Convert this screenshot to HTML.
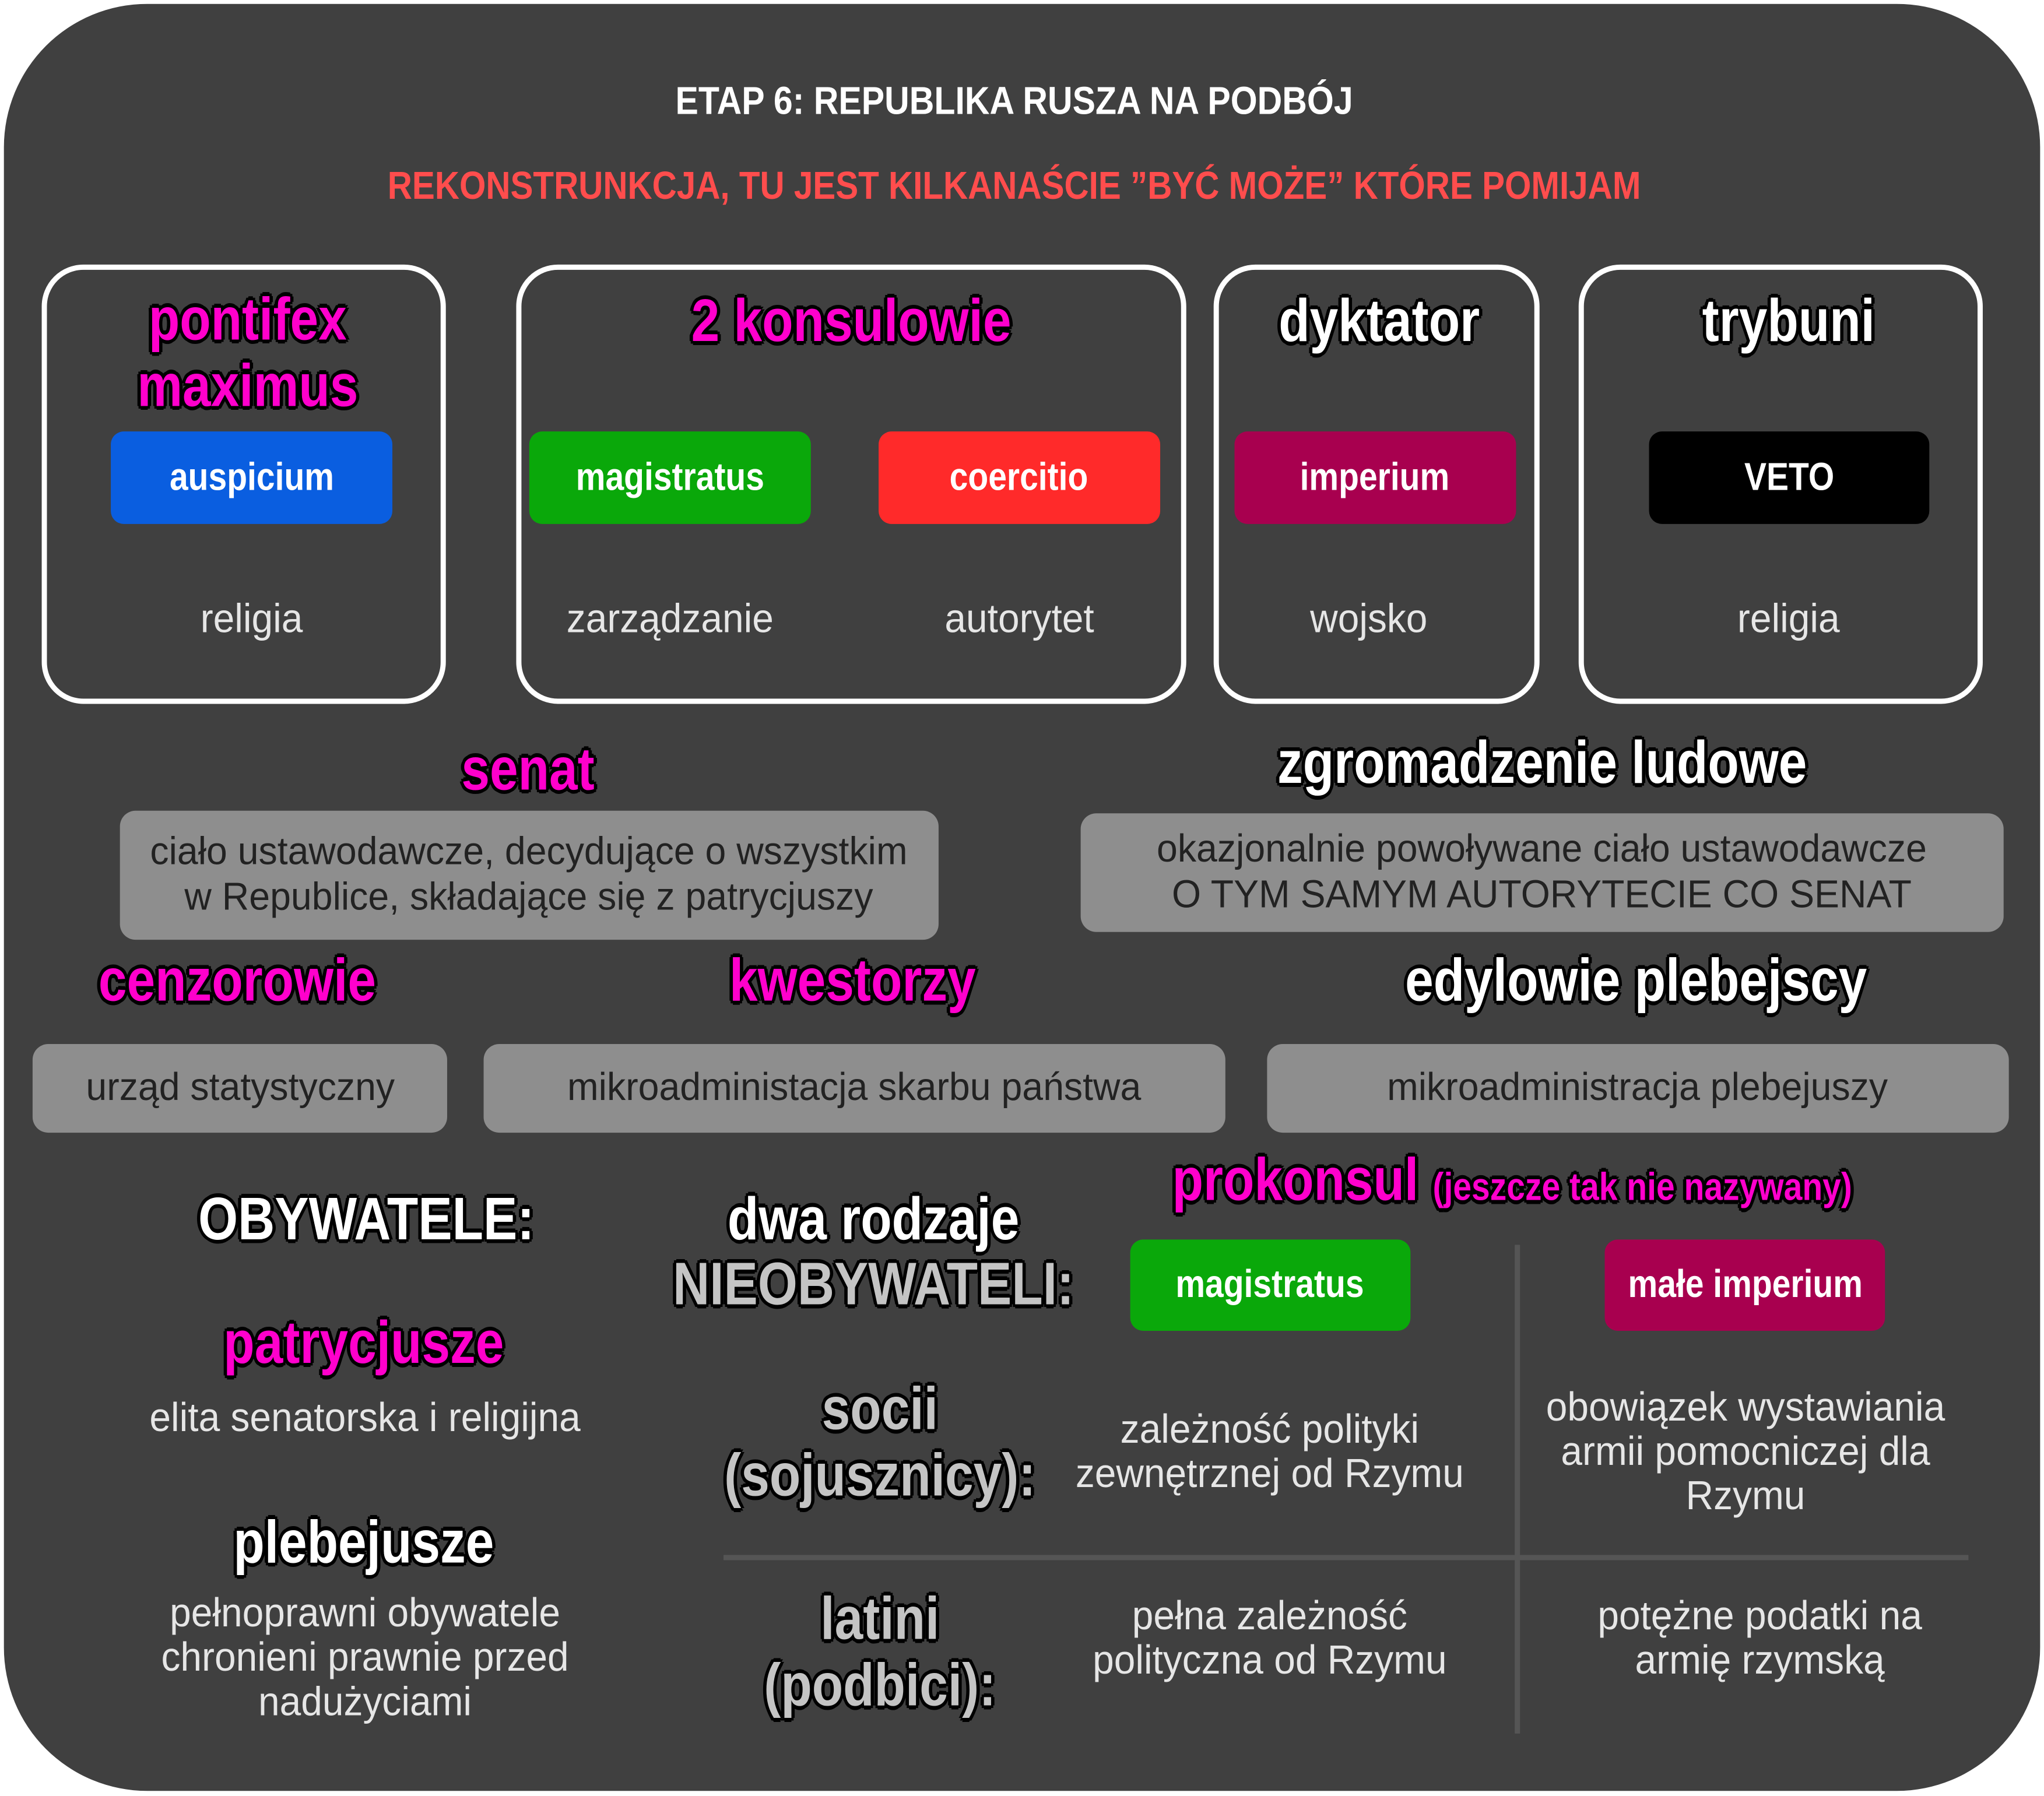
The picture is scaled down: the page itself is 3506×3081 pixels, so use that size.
<!DOCTYPE html>
<html><head><meta charset="utf-8">
<style>
html,body{margin:0;padding:0;background:#fff;}
body{width:3506px;height:3081px;overflow:hidden;position:relative;}
#s{position:absolute;left:0;top:0;width:1568px;height:1378px;transform:scale(2.236);transform-origin:0 0;font-family:"Liberation Sans","DejaVu Sans",sans-serif;}
.bg{position:absolute;left:3px;top:3px;width:1562px;height:1371px;background:#404040;border-radius:110px;}
.t{position:absolute;transform:translate(-50%,-50%) scaleX(.85);white-space:nowrap;text-align:center;line-height:1.1;}
.b{font-weight:bold;}
.h{font-weight:bold;font-size:46px;text-shadow:-2px -2px 0 #000,2px -2px 0 #000,-2px 2px 0 #000,2px 2px 0 #000,0 3px 0 #000,3px 0 0 #000,-3px 0 0 #000,0 -3px 0 #000;}
.m{color:#ff00cc;}
.w{color:#fff;}
.g{color:#c4c4c4;}
.l{color:#e6e6e6;font-size:31px;transform:translate(-50%,-50%) scaleX(.95);}
.box{position:absolute;border:4px solid #fff;border-radius:32px;box-sizing:border-box;}
.pill{position:absolute;border-radius:10px;color:#fff;font-weight:bold;font-size:30px;display:flex;align-items:center;justify-content:center;}
.pill span{transform:scaleX(.85);display:inline-block;}
.gb{position:absolute;background:#8e8e8e;border-radius:12px;color:#222;font-size:30px;display:flex;align-items:center;justify-content:center;text-align:center;line-height:1.15;}
.gb span{transform:scaleX(.96);display:inline-block;white-space:nowrap;}
</style></head><body>
<div id="s">
<div class="bg"></div>
<div class="t b w" style="left:778px;top:78px;font-size:30px;transform:translate(-50%,-50%) scaleX(.88);">ETAP 6: REPUBLIKA RUSZA NA PODBÓJ</div>
<div class="t b" style="left:778px;top:143px;font-size:30px;color:#ff4d4d;transform:translate(-50%,-50%) scaleX(.87);">REKONSTRUNKCJA, TU JEST KILKANAŚCIE ”BYĆ MOŻE” KTÓRE POMIJAM</div>

<div class="box" style="left:32px;top:203px;width:310px;height:337px;"></div>
<div class="box" style="left:396px;top:203px;width:514px;height:337px;"></div>
<div class="box" style="left:931px;top:203px;width:250px;height:337px;"></div>
<div class="box" style="left:1211px;top:203px;width:310px;height:337px;"></div>

<div class="t h m" style="left:190px;top:270px;">pontifex<br>maximus</div>
<div class="t h m" style="left:653px;top:246px;">2 konsulowie</div>
<div class="t h w" style="left:1058px;top:246px;">dyktator</div>
<div class="t h w" style="left:1372px;top:246px;">trybuni</div>

<div class="pill" style="left:85px;top:331px;width:216px;height:71px;background:#0a5ee0;"><span>auspicium</span></div>
<div class="pill" style="left:406px;top:331px;width:216px;height:71px;background:#0aa80a;"><span>magistratus</span></div>
<div class="pill" style="left:674px;top:331px;width:216px;height:71px;background:#ff2a2a;"><span>coercitio</span></div>
<div class="pill" style="left:947px;top:331px;width:216px;height:71px;background:#a8004f;"><span>imperium</span></div>
<div class="pill" style="left:1265px;top:331px;width:215px;height:71px;background:#000;"><span>VETO</span></div>

<div class="t l" style="left:193px;top:475px;">religia</div>
<div class="t l" style="left:514px;top:475px;">zarządzanie</div>
<div class="t l" style="left:782px;top:475px;">autorytet</div>
<div class="t l" style="left:1050px;top:475px;">wojsko</div>
<div class="t l" style="left:1372px;top:475px;">religia</div>

<div class="t h m" style="left:405px;top:590px;">senat</div>
<div class="gb" style="left:92px;top:622px;width:628px;height:99px;"><span>ciało ustawodawcze, decydujące o wszystkim<br>w Republice, składające się z patrycjuszy</span></div>
<div class="t h w" style="left:1183px;top:585px;">zgromadzenie ludowe</div>
<div class="gb" style="left:829px;top:624px;width:708px;height:91px;"><span>okazjonalnie powoływane ciało ustawodawcze<br>O TYM SAMYM AUTORYTECIE CO SENAT</span></div>

<div class="t h m" style="left:182px;top:752px;">cenzorowie</div>
<div class="t h m" style="left:654px;top:752px;">kwestorzy</div>
<div class="t h w" style="left:1255px;top:752px;">edylowie plebejscy</div>
<div class="gb" style="left:25px;top:801px;width:318px;height:68px;"><span>urząd statystyczny</span></div>
<div class="gb" style="left:371px;top:801px;width:569px;height:68px;"><span>mikroadministacja skarbu państwa</span></div>
<div class="gb" style="left:972px;top:801px;width:569px;height:68px;"><span>mikroadministracja plebejuszy</span></div>

<div class="t h w" style="left:281px;top:935px;">OBYWATELE:</div>
<div class="t h m" style="left:279px;top:1030px;">patrycjusze</div>
<div class="t l" style="left:280px;top:1088px;">elita senatorska i religijna</div>
<div class="t h w" style="left:279px;top:1183px;">plebejusze</div>
<div class="t l" style="left:280px;top:1272px;">pełnoprawni obywatele<br>chronieni prawnie przed<br>nadużyciami</div>

<div class="t h w" style="left:670px;top:935px;">dwa rodzaje</div>
<div class="t h g" style="left:670px;top:985px;">NIEOBYWATELI:</div>
<div class="t h m" style="left:1160px;top:905px;">prokonsul <span style="font-size:30px;">(jeszcze tak nie nazywany)</span></div>
<div class="pill" style="left:867px;top:951px;width:215px;height:70px;background:#0aa80a;"><span>magistratus</span></div>
<div class="pill" style="left:1231px;top:951px;width:215px;height:70px;background:#a8004f;"><span>małe imperium</span></div>

<div style="position:absolute;left:1162px;top:955px;width:4px;height:375px;background:#555;"></div>
<div style="position:absolute;left:555px;top:1193px;width:955px;height:4px;background:#555;"></div>

<div class="t h g" style="left:675px;top:1106px;">socii<br>(sojusznicy):</div>
<div class="t l" style="left:974px;top:1114px;">zależność polityki<br>zewnętrznej od Rzymu</div>
<div class="t l" style="left:1339px;top:1114px;">obowiązek wystawiania<br>armii pomocniczej dla<br>Rzymu</div>
<div class="t h g" style="left:675px;top:1267px;">latini<br>(podbici):</div>
<div class="t l" style="left:974px;top:1257px;">pełna zależność<br>polityczna od Rzymu</div>
<div class="t l" style="left:1350px;top:1257px;">potężne podatki na<br>armię rzymską</div>
</div>
</body></html>
